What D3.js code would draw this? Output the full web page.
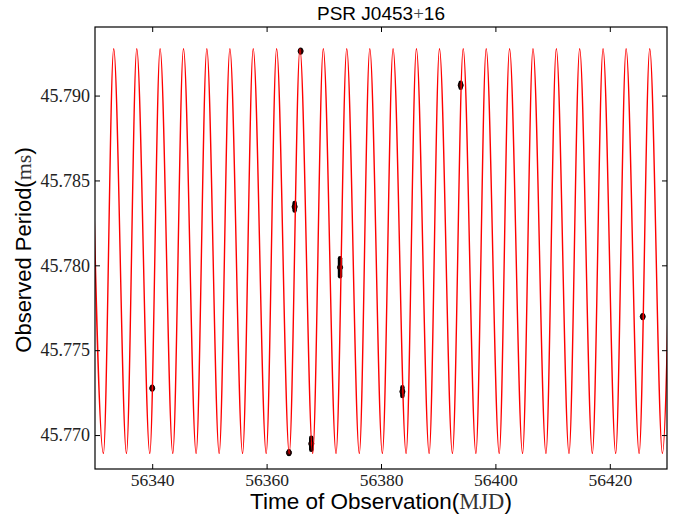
<!DOCTYPE html>
<html>
<head>
<meta charset="utf-8">
<script src="https://cdn.jsdelivr.net/npm/d3@7"></script>
<style>
  body { margin: 0; background: #fff; }
</style>
</head>
<body>
<div id="chart"></div>
<script>
// Orbital model curve: times (MJD) of the maxima and minima
const peakMJD = [56329.2, 56333.27, 56337.30, 56341.38, 56345.47, 56349.55, 56353.58,
  56357.66, 56361.75, 56365.83, 56369.91, 56374.01, 56378.04, 56382.11, 56386.19,
  56390.22, 56394.37, 56398.39, 56402.47, 56406.57, 56410.65, 56414.73, 56418.82,
  56422.85, 56426.98, 56431.05];
const troughMJD = [56331.47, 56335.50, 56339.58, 56343.60, 56347.68, 56351.71, 56355.80,
  56359.93, 56363.96, 56368.06, 56372.14, 56376.21, 56380.24, 56384.39, 56388.42,
  56392.49, 56396.59, 56400.67, 56404.75, 56408.84, 56412.87, 56416.95, 56421.03,
  56425.13, 56429.20];
const peakPeriod = 45.79276;
const troughPeriod = 45.76892;

// Measured periods with their errors
const obsMJD = [56340.0, 56363.91, 56364.90, 56365.95, 56367.81, 56372.84, 56383.74, 56393.93, 56425.76];
const obsPeriod = [45.77276, 45.76896, 45.78345, 45.79262, 45.76949, 45.77988, 45.77256, 45.79061, 45.77698];
const obsErr = [0.00008, 0.00008, 0.00022, 0.00008, 0.00035, 0.00053, 0.00026, 0.00015, 0.00008];

const xTicks = [56340, 56360, 56380, 56400, 56420];
const yTicks = [45.770, 45.775, 45.780, 45.785, 45.790];

const totalW = 678, totalH = 514;
const margin = { top: 27, right: 11, bottom: 45, left: 95 };
const width = totalW - margin.left - margin.right;
const height = totalH - margin.top - margin.bottom;

const serif = '"Liberation Serif", "DejaVu Serif", serif';
const sans = '"Liberation Sans", Arial, sans-serif';

const svg = d3.select("#chart")
  .append("svg")
  .attr("width", totalW)
  .attr("height", totalH);

const g = svg.append("g")
  .attr("transform", `translate(${margin.left},${margin.top})`);

const x = d3.scaleLinear().domain([56330, 56430]).range([0, width]);
const y = d3.scaleLinear().domain([45.768, 45.79404]).range([height, 0]);

// clip the curve to the axes box
g.append("clipPath").attr("id", "clip")
  .append("rect").attr("width", width).attr("height", height);

// merge maxima and minima into one ordered series
const curve = peakMJD.map((t) => ({ t: t, v: peakPeriod }))
  .concat(troughMJD.map((t) => ({ t: t, v: troughPeriod })))
  .sort((a, b) => a.t - b.t);

// Observations: error bars and dots
const obs = obsMJD.map((t, i) => ({ t: t, v: obsPeriod[i], e: obsErr[i] }));
const pts = g.append("g").attr("clip-path", "url(#clip)");
pts.selectAll("line.err")
  .data(obs)
  .enter()
  .append("line")
  .attr("class", "err")
  .attr("x1", (d) => x(d.t))
  .attr("x2", (d) => x(d.t))
  .attr("y1", (d) => y(d.v - d.e))
  .attr("y2", (d) => y(d.v + d.e))
  .attr("stroke", "#000")
  .attr("stroke-width", 4.5)
  .attr("stroke-linecap", "round");
pts.selectAll("circle")
  .data(obs)
  .enter()
  .append("circle")
  .attr("cx", (d) => x(d.t))
  .attr("cy", (d) => y(d.v))
  .attr("r", 2.6)
  .attr("fill", "#300")
  .attr("stroke", "#000")
  .attr("stroke-width", 0.8);

// model curve
g.append("path")
  .datum(curve)
  .attr("clip-path", "url(#clip)")
  .attr("fill", "none")
  .attr("stroke", "#ff0000")
  .attr("stroke-width", 1.4)
  .attr("d", d3.line()
    .x((d) => x(d.t))
    .y((d) => y(d.v))
    .curve(d3.curveMonotoneX));

// axes with inward ticks on all four sides
const fmtY = d3.format(".3f");
const axisStyle = (sel) => {
  sel.select(".domain").remove();
  sel.selectAll(".tick line").attr("stroke", "#000").attr("stroke-width", 1);
};

g.append("g")
  .attr("transform", `translate(0,${height})`)
  .call(d3.axisBottom(x).tickValues(xTicks).tickFormat(d3.format("d")).tickSizeInner(-5).tickPadding(5))
  .call(axisStyle)
  .call((s) => s.selectAll("text")
    .style("font-family", serif)
    .style("font-size", "17.5px")
    .attr("fill", "#222"));

g.append("g")
  .call(d3.axisTop(x).tickValues(xTicks).tickFormat("").tickSizeInner(-5))
  .call(axisStyle);

g.append("g")
  .call(d3.axisLeft(y).tickValues(yTicks).tickFormat(fmtY).tickSizeInner(-5).tickPadding(5))
  .call(axisStyle)
  .call((s) => s.selectAll("text")
    .style("font-family", serif)
    .style("font-size", "18px")
    .attr("fill", "#222"));

g.append("g")
  .attr("transform", `translate(${width},0)`)
  .call(d3.axisRight(y).tickValues(yTicks).tickFormat("").tickSizeInner(-5))
  .call(axisStyle);

// frame
g.append("rect")
  .attr("width", width)
  .attr("height", height)
  .attr("fill", "none")
  .attr("stroke", "#000")
  .attr("stroke-width", 1.2);

// Title
const title = svg.append("text")
  .attr("x", margin.left + width / 2)
  .attr("y", 20)
  .attr("text-anchor", "middle")
  .style("font-family", sans)
  .style("font-size", "19px")
  .attr("fill", "#000");
title.append("tspan").text("PSR J0453");
title.append("tspan").style("font-family", serif).attr("fill", "#444").text("+");
title.append("tspan").text("16");

// X label
const xl = svg.append("text")
  .attr("x", margin.left + width / 2)
  .attr("y", 509)
  .attr("text-anchor", "middle")
  .style("font-family", sans)
  .style("font-size", "22.5px")
  .attr("fill", "#000");
xl.append("tspan").text("Time of Observation(");
xl.append("tspan").style("font-family", serif).attr("fill", "#333").text("MJD");
xl.append("tspan").text(")");

// Y label
const yl = svg.append("text")
  .attr("transform", `translate(31,${margin.top + height / 2 + 2}) rotate(-90)`)
  .attr("text-anchor", "middle")
  .style("font-family", sans)
  .style("font-size", "22px")
  .attr("fill", "#000");
yl.append("tspan").text("Observed Period(");
yl.append("tspan").style("font-family", serif).attr("fill", "#333").text("ms");
yl.append("tspan").text(")");
</script>
</body>
</html>
